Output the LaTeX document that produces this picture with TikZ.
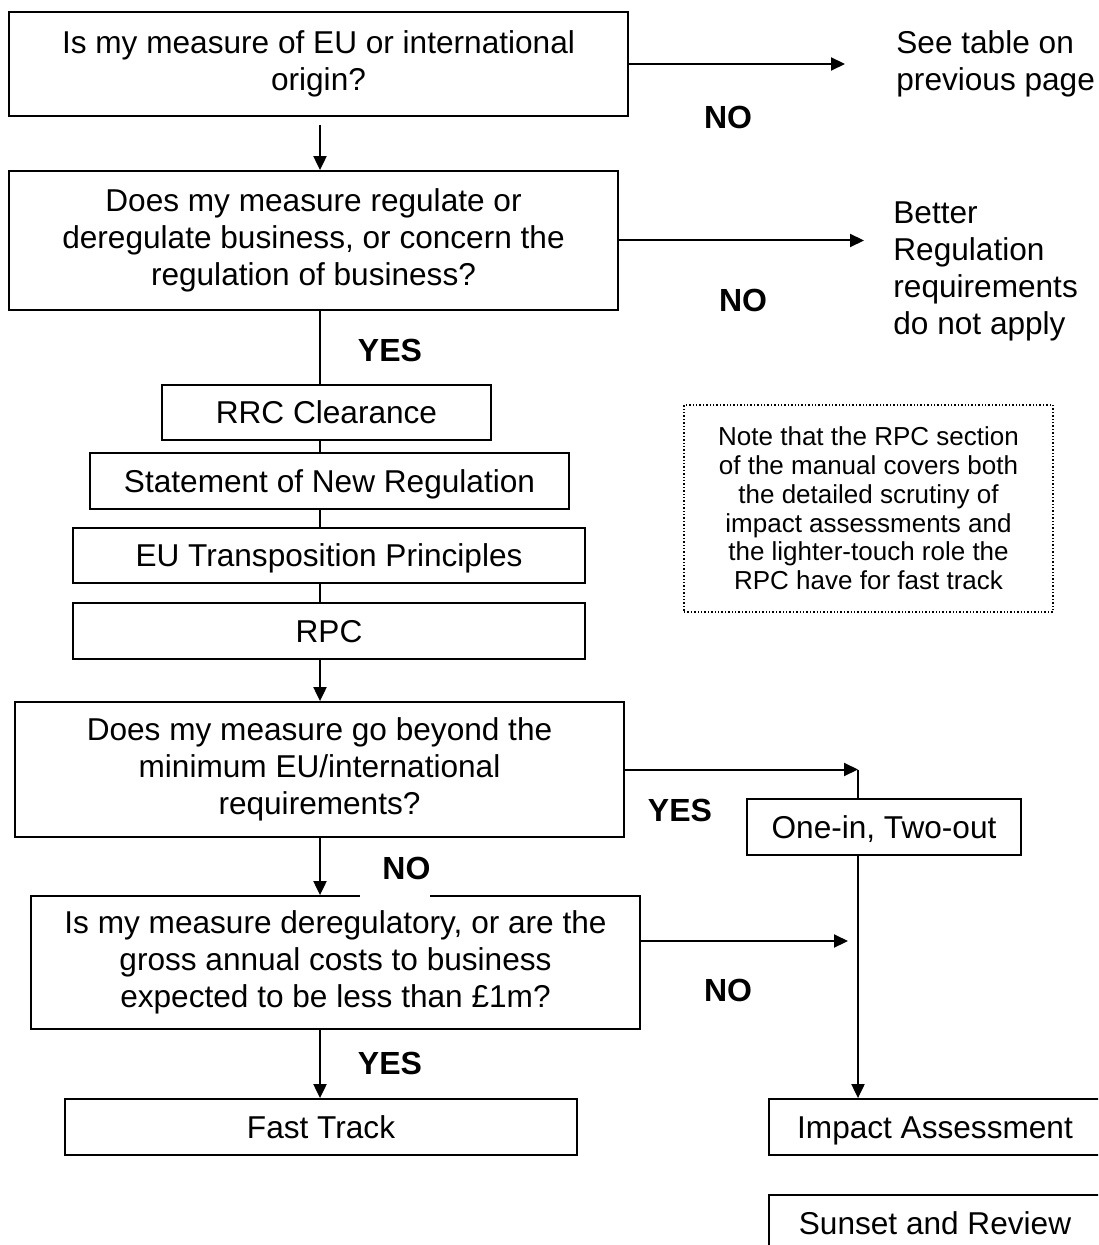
\documentclass[tikz,border=0pt]{standalone}
\usepackage{fontspec}
\setmainfont{Liberation Sans}
\usetikzlibrary{positioning,arrows.meta}

\tikzset{
  box/.style={draw, line width=0.9pt, align=center, inner sep=0pt,
    font=\fontsize{15.8}{18.5}\selectfont},
  stepbox/.style={box, text height=11.3pt, text depth=0pt},
  notebox/.style={draw, densely dotted, line width=0.7pt, align=center, inner sep=0pt,
    font=\fontsize{13}{14.4}\selectfont},
  answer/.style={inner sep=0pt, font=\fontsize{16}{18.5}\selectfont\bfseries},
  aside/.style={anchor=west, align=left, inner sep=0pt,
    font=\fontsize{15.8}{18.5}\selectfont},
  arr/.style={-{Triangle[length=7pt,width=6.5pt]}, line width=1pt},
  link/.style={line width=1pt},
}

\begin{document}
\begin{tikzpicture}[x=0.5pt, y=-0.5pt]
  \clip (0,0) rectangle (1098,1245);
  \fill[white] (0,0) rectangle (1098,1245);
  % questions and steps on the left column
  \node[box, minimum width=309.5pt, minimum height=52pt] (origin) at (318.5,64)
    {Is my measure of EU or international\\origin?};
  \node[box, minimum width=304.5pt, minimum height=69.5pt] (busreg) at (313.5,240.5)
    {Does my measure regulate or\\deregulate business, or concern the\\regulation of business?};
  \node[stepbox, minimum width=164.5pt, minimum height=27.5pt] (rrc) at (326.5,412.5) {RRC Clearance};
  \node[stepbox, minimum width=239.5pt, minimum height=28pt] (snr) at (329.5,481) {Statement of New Regulation};
  \node[stepbox, minimum width=256pt, minimum height=27.5pt] (eutp) at (329,555.5) {EU Transposition Principles};
  \node[stepbox, minimum width=256pt, minimum height=28pt] (rpc) at (329,631) {RPC};
  \node[box, minimum width=304.5pt, minimum height=67.5pt] (beyond) at (319.5,769.5)
    {Does my measure go beyond the\\minimum EU/international\\requirements?};
  \node[box, minimum width=304.5pt, minimum height=66.5pt] (small) at (335.5,962.5)
    {Is my measure deregulatory, or are the\\gross annual costs to business\\expected to be less than \pounds1m?};
  \node[stepbox, minimum width=256pt, minimum height=28pt] (ft) at (321,1127) {Fast Track};
  % right column
  \node[aside] (seetab) at (896,63.5) {See table on\\previous page};
  \node[aside] (brr) at (893,271.5) {Better\\Regulation\\requirements\\do not apply};
  \node[notebox, minimum width=184.5pt, minimum height=103.5pt] (note) at (868.5,508.5)
    {Note that the RPC section\\of the manual covers both\\the detailed scrutiny of\\impact assessments and\\the lighter-touch role the\\RPC have for fast track};
  \node[stepbox, minimum width=137pt, minimum height=28pt] (oito) at (884,827) {One-in, Two-out};
  \node[stepbox, minimum width=166pt, minimum height=28pt] (ia) at (935,1127) {Impact Assessment};
  \node[stepbox, minimum width=166pt, minimum height=28.5pt] (sr) at (935,1223.5) {Sunset and Review};
  % spine and rside are the x positions of the vertical connectors
  \coordinate (spine) at (320,0);
  \coordinate (rside) at (858,0);
  \coordinate (nojoin) at (848,941);
  \draw[arr, shorten <=4pt] (origin.south -| spine) -- (busreg.north -| spine);
  \draw[arr, shorten >=25.5pt] (origin.east) -- (origin.east -| seetab.west);
  \draw[arr, shorten >=14.5pt] (busreg.east) -- (busreg.east -| brr.west);
  \draw[link] (busreg.south -| spine) -- (rrc.north -| spine);
  \draw[link] (rrc.south -| spine) -- (snr.north -| spine);
  \draw[link] (snr.south -| spine) -- (eutp.north -| spine);
  \draw[link] (eutp.south -| spine) -- (rpc.north -| spine);
  \draw[arr] (rpc.south -| spine) -- (beyond.north -| spine);
  \draw[arr] (beyond.east) -- (beyond.east -| rside);
  \draw[link] (beyond.east -| rside) -- (oito.north -| rside);
  \draw[arr] (beyond.south -| spine) -- (small.north -| spine);
  \draw[arr] (nojoin -| small.east) -- (nojoin);
  \draw[arr] (oito.south -| rside) -- (ia.north -| rside);
  \draw[arr] (small.south -| spine) -- (ft.north -| spine);
  % answers on the branches
  \node[answer] (no1) at (728,117) {NO};
  \node[answer] (no2) at (743,300) {NO};
  \node[answer] (yes1) at (390,350) {YES};
  \node[answer] (yes2) at (680,810) {YES};
  \node[answer, fill=white, anchor=west, minimum height=29pt] (no3) at (360,868)
    {\hspace{11pt}NO\hspace{21pt}};
  \node[answer] (no4) at (728,990) {NO};
  \node[answer] (yes3) at (390,1063) {YES};
\end{tikzpicture}
\end{document}
